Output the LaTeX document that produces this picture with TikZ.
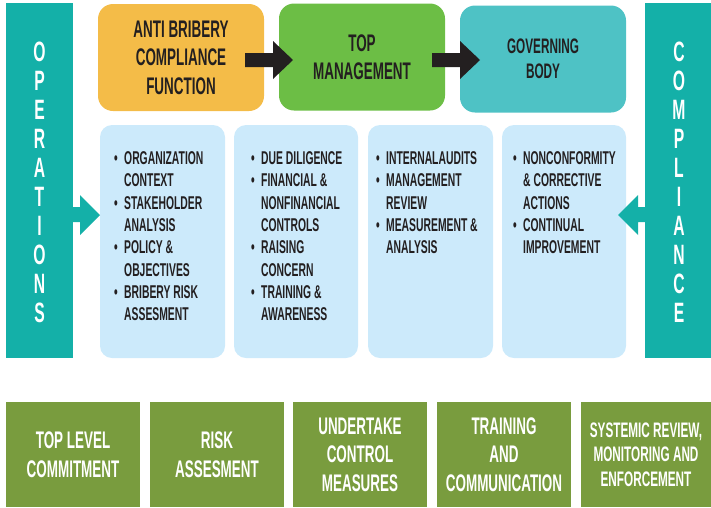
\documentclass[tikz,border=0pt]{standalone}
\usepackage{fontspec}
\newfontfamily\cond{Liberation Sans}[FakeStretch=0.56]
\definecolor{sideT}{HTML}{14B0A8}
\definecolor{orangeC}{HTML}{F4BC48}
\definecolor{greenC}{HTML}{6CBE45}
\definecolor{tealC}{HTML}{4EC2C5}
\definecolor{blueC}{HTML}{CCEAFB}
\definecolor{oliveC}{HTML}{799C3E}
\definecolor{darkC}{HTML}{231F20}
\begin{document}
\begin{tikzpicture}[x=1pt,y=-1pt,
  sidelet/.style={inner sep=0pt,text=white,font=\cond\bfseries\fontsize{28}{28}\selectfont},
  topbox/.style={rounded corners=15pt,minimum width=166pt,minimum height=107pt,inner sep=0pt,align=center,text=darkC,font=\cond\bfseries\fontsize{24}{28.5}\selectfont},
  bluebox/.style={fill=blueC,rounded corners=12pt,minimum height=233pt,inner sep=0pt},
  listtext/.style={anchor=base west,inner sep=0pt,text=darkC,font=\cond\bfseries\fontsize{18.5}{22.3}\selectfont},
  botbox/.style={fill=oliveC,minimum height=105pt,inner sep=0pt,align=center,text=white,font=\cond\bfseries\fontsize{24}{28.5}\selectfont},
  blockarrow/.style={fill=darkC},
  tealarrow/.style={fill=sideT}]
\useasboundingbox (0,0) rectangle (711,507);

% side bars
\fill[sideT] (6,3) rectangle (73,358);
\fill[sideT] (645,3) rectangle (711,358);
\foreach \L [count=\i from 0] in {O,P,E,R,A,T,I,O,N,S}
  \node[sidelet] at (39.5,52+29*\i) {\L};
\foreach \L [count=\i from 0] in {C,O,M,P,L,I,A,N,C,E}
  \node[sidelet] at (679,52+29*\i) {\L};

% top boxes
\node[topbox,fill=orangeC] (acf) at (181,57.5) {ANTI BRIBERY\\COMPLIANCE\\FUNCTION};
\node[topbox,fill=greenC] (tm) at (362,57) {TOP\\MANAGEMENT};
\node[topbox,fill=tealC,font=\cond\bfseries\fontsize{21}{25}\selectfont] (gb) at (543,59) {GOVERNING\\BODY};

% black block arrows
\fill[blockarrow] (245,53) -- (273,53) -- (273,41) -- (293,60) -- (273,79) -- (273,67) -- (245,67) -- cycle;
\fill[blockarrow] (432,53) -- (460,53) -- (460,41) -- (480,60) -- (460,79) -- (460,67) -- (432,67) -- cycle;

% blue boxes
\node[bluebox,minimum width=125pt] (b1) at (162.5,241.5) {};
\node[bluebox,minimum width=124pt] (b2) at (296,241.5) {};
\node[bluebox,minimum width=125pt] (b3) at (430.5,241.5) {};
\node[bluebox,minimum width=124pt] (b4) at (564,241.5) {};

\node[listtext] (l1) at (114,164.5) {\begin{tabular}[t]{@{}p{10pt}@{}l@{}}
\textbullet & ORGANIZATION\\ & CONTEXT\\
\textbullet & STAKEHOLDER\\ & ANALYSIS\\
\textbullet & POLICY \&\\ & OBJECTIVES\\
\textbullet & BRIBERY RISK\\ & ASSESMENT\end{tabular}};
\node[listtext] (l2) at (251,164.5) {\begin{tabular}[t]{@{}p{10pt}@{}l@{}}
\textbullet & DUE DILIGENCE\\
\textbullet & FINANCIAL \&\\ & NONFINANCIAL\\ & CONTROLS\\
\textbullet & RAISING\\ & CONCERN\\
\textbullet & TRAINING \&\\ & AWARENESS\end{tabular}};
\node[listtext] (l3) at (376,164.5) {\begin{tabular}[t]{@{}p{10pt}@{}l@{}}
\textbullet & INTERNALAUDITS\\
\textbullet & MANAGEMENT\\ & REVIEW\\
\textbullet & MEASUREMENT \&\\ & ANALYSIS\end{tabular}};
\node[listtext] (l4) at (513,164.5) {\begin{tabular}[t]{@{}p{10pt}@{}l@{}}
\textbullet & NONCONFORMITY\\ & \& CORRECTIVE\\ & ACTIONS\\
\textbullet & CONTINUAL\\ & IMPROVEMENT\end{tabular}};

% teal arrows
\fill[tealarrow] (73,207) -- (80,207) -- (80,195) -- (100,215) -- (80,235) -- (80,222) -- (73,222) -- cycle;
\fill[tealarrow] (645,207) -- (638,207) -- (638,195) -- (618,215) -- (638,235) -- (638,222) -- (645,222) -- cycle;

% bottom boxes
\node[botbox,minimum width=134pt] (p1) at (73,454.5) {TOP LEVEL\\COMMITMENT};
\node[botbox,minimum width=134pt] (p2) at (217,454.5) {RISK\\ASSESMENT};
\node[botbox,minimum width=134pt] (p3) at (360,454.5) {UNDERTAKE\\CONTROL\\MEASURES};
\node[botbox,minimum width=134pt] (p4) at (504,454.5) {TRAINING\\AND\\COMMUNICATION};
\node[botbox,minimum width=130pt,font=\cond\bfseries\fontsize{21}{24.5}\selectfont] (p5) at (646,454.5) {SYSTEMIC REVIEW,\\MONITORING AND\\ENFORCEMENT};
\end{tikzpicture}
\end{document}
